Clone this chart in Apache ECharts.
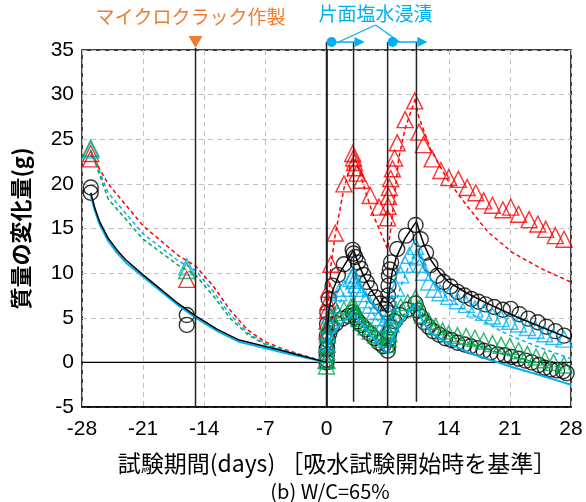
<!DOCTYPE html>
<html><head><meta charset="utf-8">
<script src="https://cdn.jsdelivr.net/npm/echarts@6/dist/echarts.min.js"></script>
<style>html,body{margin:0;padding:0;background:#fff}#c{width:586px;height:502px}</style>
</head><body><div id="c"></div><script>
// ---- tick settings ----
const xTicks = {min:-28, max:28, interval:7};
const yTicks = {min:-5, max:35, interval:5};
// ---- event days ----
const microcrackDay = -15;
const immersionStart = [0, 7];
const immersionEnd = [3.1, 10.3];

// ---- measured: black circles (upper specimen) ----
const circlesA = [[-27,19.6],[-16,5.3],[0,0.3],[0.02,1.5],[0.04,3.0],[0.06,4.3],[0.1,5.6],[0.25,7.1],[0.7,8.6],[1.3,9.8],[2.0,11.0],[3.0,12.6],[3.1,12.2],[3.3,11.8],[3.6,11.2],[3.9,10.5],[4.2,9.8],[4.6,9.0],[5.0,8.3],[5.6,7.3],[6.2,6.6],[6.8,6.0],[7.0,5.6],[7.02,6.5],[7.05,7.5],[7.1,8.6],[7.15,9.7],[7.25,10.4],[7.4,11.2],[8.1,12.7],[9.1,14.2],[10.2,15.4],[10.8,13.8],[11.4,12.3],[11.9,10.9],[12.7,9.7],[13.4,9.0],[14.2,8.5],[15.0,7.9],[15.8,7.5],[16.6,7.1],[17.4,6.8],[18.2,6.5],[19.2,6.2],[20.2,5.9],[21.1,6.0],[22.1,5.4],[23.1,4.9],[24.2,4.5],[25.2,4.0],[26.2,3.5],[27.2,3.0]];
// ---- measured: black circles (lower specimen) ----
const circlesB = [[-27,19.0],[-16,4.2],[0,0.0],[0.03,0.8],[0.07,1.6],[0.15,2.5],[0.3,3.2],[0.6,3.9],[1.1,4.4],[1.8,4.9],[2.5,5.2],[3.0,5.6],[3.15,5.3],[3.3,5.0],[3.6,4.6],[4.0,4.2],[4.5,3.7],[5.0,3.2],[5.5,2.7],[6.0,2.2],[6.5,1.8],[7.0,1.3],[7.05,1.9],[7.1,2.6],[7.2,3.3],[7.4,3.9],[7.8,4.6],[8.4,5.3],[9.2,5.9],[10.2,6.6],[10.5,5.8],[10.8,5.1],[11.2,4.5],[11.7,4.0],[12.2,3.5],[12.9,3.1],[13.6,2.7],[14.3,2.5],[15.0,2.2],[15.8,2.0],[16.5,1.8],[17.3,1.6],[18.0,1.3],[18.8,1.1],[19.6,0.9],[20.4,0.8],[21.2,0.6],[22.0,0.4],[22.8,0.2],[23.5,0.0],[24.3,-0.3],[25.0,-0.6],[25.7,-0.8],[26.4,-0.9],[27.1,-1.0],[27.5,-1.2]];
// ---- measured: red triangles ----
const redTri = [[-27,23.4],[-27,22.8],[-16,9.3],[0,0.3],[0.02,2.0],[0.04,3.5],[0.06,4.6],[0.1,5.8],[0.15,6.8],[0.25,8.2],[0.5,11.0],[1.0,14.5],[2.0,20.0],[3.0,23.4],[3.1,22.9],[3.2,22.4],[3.3,21.8],[3.5,21.2],[4.0,20.4],[5.0,18.7],[6.0,17.4],[7.0,16.2],[7.05,17.5],[7.1,18.6],[7.2,19.6],[7.35,20.6],[7.55,21.7],[7.8,22.9],[8.1,24.6],[9.0,27.2],[10.1,29.3],[10.6,25.8],[11.1,24.4],[12.1,22.8],[13.1,21.5],[14.0,20.7],[15.1,20.5],[16.1,19.6],[17.1,19.0],[18.0,18.1],[19.0,17.6],[20.2,17.1],[21.1,17.4],[22.0,16.6],[23.2,16.0],[24.2,15.5],[25.1,14.9],[26.2,14.2],[27.2,13.8]];
// ---- measured: blue triangles ----
const blueTri = [[-27,23.8],[-16,10.7],[0,0.2],[0.03,1.2],[0.06,2.2],[0.1,3.3],[0.2,4.3],[0.4,5.3],[0.8,6.4],[1.4,7.8],[2.0,8.3],[2.8,9.4],[3.1,9.8],[3.2,9.2],[3.4,8.7],[3.6,8.3],[4.0,7.7],[4.5,7.0],[5.0,6.4],[5.5,5.7],[6.0,5.0],[6.5,4.3],[7.0,3.4],[7.05,4.3],[7.2,5.4],[7.5,6.6],[8.0,8.3],[8.5,9.8],[9.0,11.0],[9.5,12.0],[10.2,13.0],[10.5,11.8],[10.8,11.0],[11.1,10.1],[11.7,9.0],[12.3,8.2],[13.0,7.8],[14.0,7.4],[15.0,6.9],[16.0,6.5],[17.0,6.0],[18.0,5.6],[19.0,5.2],[20.0,4.9],[21.0,4.6],[22.0,4.3],[23.0,3.9],[24.0,3.6],[25.0,3.2],[26.0,2.9],[27.2,2.6]];
// ---- measured: green triangles ----
const greenTri = [[-27,24.0],[-16,10.3],[0,0.2],[0,-0.4],[0.02,0.9],[0.05,2.0],[0.1,3.1],[0.25,4.3],[0.6,5.0],[1.2,5.6],[2.0,5.9],[2.8,6.2],[3.1,6.4],[3.2,5.8],[3.4,5.3],[3.7,4.9],[4.0,4.5],[4.5,4.0],[5.0,3.5],[5.6,3.1],[6.2,2.6],[6.9,2.0],[7.05,2.6],[7.15,3.2],[7.4,4.3],[7.8,5.2],[8.5,6.2],[9.3,6.7],[10.2,7.2],[10.6,6.0],[11.0,5.3],[11.7,4.6],[12.5,4.0],[13.3,3.5],[14.0,3.2],[15.0,3.0],[16.0,2.9],[17.0,2.7],[18.0,2.4],[19.0,2.1],[20.0,1.9],[21.0,1.8],[22.0,1.3],[23.0,0.9],[24.0,0.6],[25.0,0.3],[26.0,0.0],[27.2,-0.3]];

// ---- model lines ----
const blackModel = [[-27,19.0],[-26.5,17.2],[-26,15.8],[-25,13.9],[-24,12.6],[-23,11.5],[-21,9.8],[-19,8.2],[-17,6.6],[-15,5.2],[-12.5,3.7],[-10,2.5],[-5,1.3],[0,0],[0.1,4.0],[0.3,6.0],[0.7,8.0],[1.5,10.0],[2.3,11.3],[3.1,12.6],[3.6,11.2],[4.2,9.8],[5,8.3],[6,6.8],[7,5.5],[7.2,8.0],[7.5,10.0],[8,11.8],[9,13.9],[10.3,15.8],[10.7,14.5],[11.2,13.1],[12,11.4],[13,10.0],[14,9.0],[16,7.8],[18,6.8],[20,5.9],[22,5.0],[24,4.2],[26,3.4],[28,2.6]];
const blueSolidModel = [[-27,18.7],[-26.5,16.9],[-26,15.5],[-25,13.6],[-24,12.3],[-23,11.2],[-21,9.6],[-19,8.0],[-17,6.4],[-15,5.0],[-12.5,3.5],[-10,2.3],[-5,1.1],[0,0],[0.2,2.0],[0.5,2.9],[1,3.6],[2,4.6],[3.1,5.5],[4,4.3],[5,3.1],[6,2.0],[7,1.0],[7.5,2.6],[8.5,4.4],[9.5,5.8],[10.3,6.6],[11,4.6],[12,3.3],[14,2.1],[16.5,1.0],[19,0.2],[21.5,-0.6],[24,-1.3],[26,-1.9],[28,-2.5]];
const redModel = [[-27,23.3],[-25,20.0],[-21,15.3],[-17,12.0],[-15,10.8],[-13,8.6],[-11,5.8],[-9,3.6],[-7,2.3],[-5,1.5],[-2,0.6],[0,0],[0.1,4.5],[0.3,8.2],[0.5,10.8],[1,14.3],[2,19.5],[3.1,23.3],[3.9,21.0],[4.5,19.0],[5.4,16.4],[6,15.0],[7,12.7],[7.3,14.5],[7.6,17.0],[8.3,23.0],[9,26.2],[10.2,29.6],[10.4,28.0],[11.9,23.9],[13.9,20.4],[16.2,17.4],[18.5,14.6],[21.3,12.3],[24.6,10.5],[28,9.0]];
const blueModel = [[-27,23.8],[-25,19.0],[-21,14.4],[-17,11.4],[-15,10.3],[-13,8.0],[-11,5.3],[-9,3.3],[-7,2.1],[-5,1.4],[-2,0.5],[0,0],[0.2,2.5],[0.5,4.0],[1,5.5],[2,7.8],[3.1,9.6],[4,7.8],[5,6.0],[6,4.5],[7,3.2],[7.5,5.2],[8.5,8.5],[9.5,11.0],[10.3,12.6],[11,10.8],[12,9.2],[13,8.0],[14,7.1],[16,5.8],[17.7,4.8],[20,3.5],[21.5,2.8],[24.9,1.5],[28,0.4]];
const greenModel = [[-27,23.8],[-25,18.3],[-21,13.8],[-17,10.9],[-15,9.8],[-13,7.5],[-11,4.9],[-9,3.1],[-7,2.0],[-5,1.3],[-2,0.5],[0,0],[0.5,2.8],[1,3.8],[2,5.0],[3.1,6.0],[4,4.8],[5,3.6],[6,2.5],[7,1.5],[7.5,3.0],[8.5,4.9],[9.5,6.2],[10.3,7.0],[11,5.5],[12,4.2],[14,3.0],[16,2.3],[18,1.6],[20,1.0],[22,0.5],[24,0.0],[26,-0.4],[28,-0.8]];

const RED='#FF0000', BLUE='#00B0F0', GREEN='#00A550', BLACK='#000000', ORANGE='#ED7D31';

function sc(data, symbol, color, size){
  return {type:'scatter', data, symbol, symbolSize:size, silent:true, z:3,
    itemStyle:{color:'rgba(0,0,0,0)', borderColor:color, borderWidth:1.4}};
}
function ln(data, color, dashed, width){
  return {type:'line', data, showSymbol:false, symbol:'none', silent:true, z:4,
    lineStyle:{color, width, type: dashed ? [4,3] : 'solid'}};
}

const chart = echarts.init(document.getElementById('c'));
const option = {
  animation:false,
  backgroundColor:'#fff',
  grid:{left:82, right:15, top:50, bottom:95, containLabel:false, outerBoundsMode:'none',
    show:true, borderColor:'#000', borderWidth:1.5, backgroundColor:'transparent'},
  xAxis:{type:'value', min:xTicks.min, max:xTicks.max, interval:xTicks.interval,
    axisLine:{show:true, onZero:false, lineStyle:{color:'#000', width:1.5}},
    axisTick:{show:false},
    axisLabel:{color:'#000', fontSize:21, fontFamily:'Liberation Sans', margin:12},
    splitLine:{show:true, lineStyle:{color:'#BFBFBF', type:[5,4], width:1}}},
  yAxis:{type:'value', min:yTicks.min, max:yTicks.max, interval:yTicks.interval,
    axisLine:{show:true, lineStyle:{color:'#000', width:1.5}},
    axisTick:{show:false},
    axisLabel:{color:'#000', fontSize:21, fontFamily:'Liberation Sans', margin:8},
    splitLine:{show:true, lineStyle:{color:'#BFBFBF', type:[5,4], width:1}},
    name:'質量の変化量(g)', nameLocation:'middle', nameGap:50, nameRotate:90,
    nameTextStyle:{color:'#000', fontSize:22, fontWeight:'bold', fontFamily:'Noto Sans CJK JP'}},
  series:[
    Object.assign(ln([[xTicks.min,0],[xTicks.max,0]], BLACK, false, 1.3), {z:2}),
    sc(circlesA, 'circle', BLACK, 15),
    sc(circlesB, 'circle', BLACK, 15),
    sc(redTri, 'triangle', RED, 16),
    sc(blueTri, 'triangle', BLUE, 16),
    sc(greenTri, 'triangle', GREEN, 16),
    ln(redModel, RED, true, 1.5),
    ln(blueModel, BLUE, true, 1.5),
    ln(greenModel, GREEN, true, 1.5),
    ln(blueSolidModel, BLUE, false, 2),
    ln(blackModel, BLACK, false, 1.5)
  ]
};
chart.setOption(option);

const P = (x,y) => chart.convertToPixel({gridIndex:0}, [x,y]);
const topY = P(0, yTicks.max)[1];
const botY = P(0, yTicks.min)[1];
const annY = topY - 8;
const g = [];
const vline = (x, y1, y2) => g.push({type:'line', shape:{x1:x, y1, x2:x, y2}, style:{stroke:'#222', lineWidth:1.5}, z:50, silent:true});
// microcrack
const mx = P(microcrackDay,0)[0];
vline(mx, topY - 2, botY);
g.push({type:'polygon', shape:{points:[[mx-7, topY-14],[mx+7, topY-14],[mx, topY-2]]}, style:{fill:ORANGE}, z:51});
g.push({type:'text', style:{text:'マイクロクラック作製', x:mx-5, y:topY-33, align:'center', verticalAlign:'middle', fill:ORANGE, fontSize:19, fontFamily:'Noto Sans CJK JP'}, z:51});
// immersion
const ends = [];
immersionStart.forEach((d,i) => {
  const sx = P(d,0)[0];
  const ex = P(immersionEnd[i],0)[0];
  vline(sx, annY, botY);
  vline(ex, annY, P(0, yTicks.min + 0.6)[1]);
  g.push({type:'line', shape:{x1:sx+5, y1:annY, x2:ex+4, y2:annY}, style:{stroke:BLUE, lineWidth:1.5}, z:51});
  g.push({type:'polygon', shape:{points:[[ex+1, annY-5],[ex+1, annY+5],[ex+11, annY]]}, style:{fill:BLUE}, z:51});
  g.push({type:'circle', shape:{cx:sx+5, cy:annY, r:5}, style:{fill:BLUE}, z:52});
  ends.push(sx+12);
});
const tx = (P(immersionStart[0],0)[0] + P(immersionEnd[1],0)[0]) / 2 + 4;
g.push({type:'text', style:{text:'片面塩水浸漬', x:tx, y:topY-36, align:'center', verticalAlign:'middle', fill:BLUE, fontSize:19, fontFamily:'Noto Sans CJK JP'}, z:51});
ends.forEach(ex => g.push({type:'line', shape:{x1:tx, y1:topY-25, x2:ex, y2:annY}, style:{stroke:BLUE, lineWidth:1.2}, z:51}));
// axis title + caption
g.push({type:'text', style:{text:'試験期間(days) ［吸水試験開始時を基準］', x:P(1.2,0)[0], y:botY+56, align:'center', verticalAlign:'middle', fill:'#000', fontSize:23, fontFamily:'Noto Sans CJK JP'}, z:51});
g.push({type:'text', style:{text:'(b) W/C=65%', x:P(0.4,0)[0], y:botY+84, align:'center', verticalAlign:'middle', fill:'#000', fontSize:20, fontFamily:'Noto Sans CJK JP'}, z:51});
chart.setOption({graphic:{elements:g}});
</script></body></html>
